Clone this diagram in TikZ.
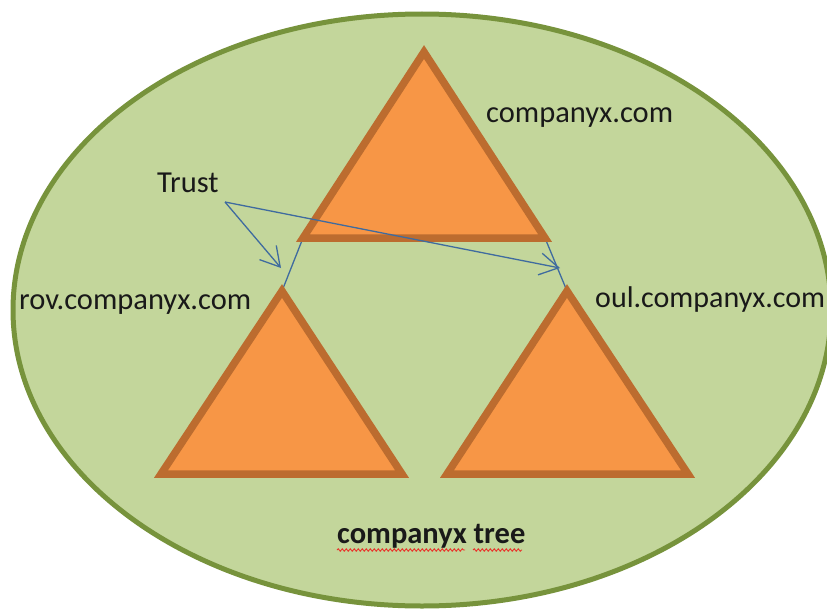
\documentclass[tikz,border=0pt]{standalone}
\usepackage{fontspec}
\setmainfont{Carlito}
\usetikzlibrary{arrows.meta,decorations.pathmorphing}

\definecolor{forestfill}{HTML}{C3D69B}
\definecolor{forestline}{HTML}{77933C}
\definecolor{domainfill}{HTML}{F79646}
\definecolor{domainline}{HTML}{BC6C2F}
\definecolor{trustblue}{HTML}{3F6B9F}
\definecolor{spellred}{HTML}{E8352B}

\tikzset{
  forestshape/.style={fill=forestfill, draw=forestline, line width=5pt},
  domaintri/.style={fill=domainfill, draw=domainline, line width=7.5pt, line join=miter},
  linkline/.style={draw=trustblue, line width=1.3pt},
  trustarrow/.style={draw=trustblue, line width=1.3pt,
    -{Straight Barb[length=19pt,width=22pt,line width=1.3pt]}},
  txtlabel/.style={inner sep=0pt, font=\fontsize{30.5}{33}\selectfont, text=black!90},
  spellmark/.style={draw=spellred, line width=0.9pt,
    decorate, decoration={snake, amplitude=1.2pt, segment length=4pt}}
}

\begin{document}
\begin{tikzpicture}[x=1pt, y=-1pt]
  \useasboundingbox (0,0) rectangle (827,610);

  % the forest
  \path[forestshape] (422,310) ellipse [x radius=409, y radius=296];

  % triangle corners (stroke centre line)
  \coordinate (rootapex) at (424,52);
  \coordinate (rootbl)   at (303,238);
  \coordinate (rootbr)   at (545,238);
  \coordinate (rovapex)  at (282,291);
  \coordinate (rovbl)    at (161,474);
  \coordinate (rovbr)    at (402,474);
  \coordinate (oulapex)  at (567,291);
  \coordinate (oulbl)    at (447,474);
  \coordinate (oulbr)    at (688,474);

  % parent-child links
  \draw[linkline] (rootbl) -- (rovapex);
  \draw[linkline] (rootbr) -- (oulapex);

  % domain triangles
  \path[domaintri] (rootapex) -- (rootbr) -- (rootbl) -- cycle;
  \path[domaintri] (rovapex) -- (rovbr) -- (rovbl) -- cycle;
  \path[domaintri] (oulapex) -- (oulbr) -- (oulbl) -- cycle;

  % labels
  \node[txtlabel, anchor=base west] (rootlbl) at (486,122) {companyx.com};
  \node[txtlabel, anchor=base west] (rovlbl)  at (19,309)  {rov.companyx.com};
  \node[txtlabel, anchor=base west, font=\fontsize{30}{33}\selectfont]
       (oullbl) at (595,307) {oul.companyx.com};
  \node[txtlabel, anchor=base west] (trust)   at (157,192) {Trust};
  \node[txtlabel, anchor=base west, font=\fontsize{30.5}{33}\selectfont\bfseries]
       (treelbl) at (337,543) {companyx tree};

  % trust arrows
  \coordinate (trustfork) at (225,202);
  \coordinate (rovtip) at (281,268);
  \coordinate (oultip) at (560,268);
  \draw[trustarrow] (trustfork) -- (rovtip);
  \draw[trustarrow] (trustfork) -- (oultip);

  % spell-check squiggles under the forest name
  \coordinate (sq1a) at (337,550);
  \coordinate (sq1b) at (465,550);
  \coordinate (sq2a) at (473,550);
  \coordinate (sq2b) at (522,550);
  \draw[spellmark] (sq1a) -- (sq1b);
  \draw[spellmark] (sq2a) -- (sq2b);
\end{tikzpicture}
\end{document}
